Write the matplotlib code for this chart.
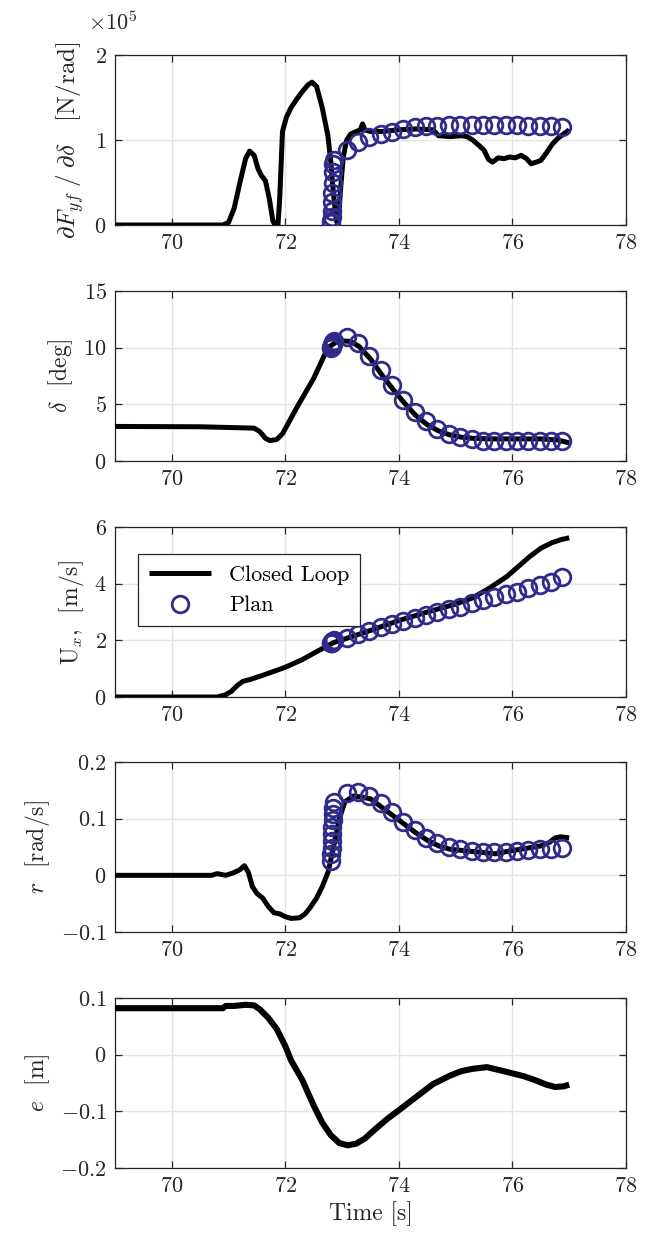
import numpy as np
import matplotlib
matplotlib.use("Agg")
import matplotlib.pyplot as plt
from matplotlib.ticker import FuncFormatter

plt.rcParams["font.family"] = ["cmr10", "DejaVu Serif"]
plt.rcParams["mathtext.fontset"] = "cm"
plt.rcParams["axes.formatter.use_mathtext"] = True
plt.rcParams["font.size"] = 16

# ── Closed loop traces (time [s], value) ──
t_cs = [69.0, 70.9, 71.0, 71.1, 71.2, 71.3, 71.37, 71.45, 71.52, 71.58, 71.65, 71.72, 71.78,
        71.82, 71.87, 71.9, 71.95, 72.02, 72.1, 72.2, 72.3, 72.4, 72.47, 72.55, 72.65, 72.75,
        72.8, 72.85, 72.9, 72.93, 72.97, 73.02, 73.08, 73.15, 73.25, 73.32, 73.36, 73.4, 73.5,
        73.7, 74.0, 74.3, 74.6, 74.7, 74.9, 75.1, 75.2, 75.3, 75.42, 75.5, 75.58, 75.65, 75.75,
        75.85, 75.95, 76.05, 76.15, 76.25, 76.33, 76.42, 76.5, 76.6, 76.7, 76.8, 76.9, 77.0]
cs_cl = [0.0, 0.0, 0.03, 0.2, 0.5, 0.78, 0.87, 0.82, 0.66, 0.58, 0.52, 0.3, 0.05,
         0.0, 0.0, 0.3, 1.1, 1.27, 1.38, 1.48, 1.57, 1.65, 1.68, 1.63, 1.38, 1.05,
         0.75, 0.35, 0.05, 0.0, 0.4, 0.8, 1.0, 1.07, 1.1, 1.12, 1.19, 1.12, 1.1,
         1.1, 1.12, 1.13, 1.12, 1.05, 1.04, 1.05, 1.04, 1.0, 0.93, 0.88, 0.77, 0.74, 0.79,
         0.78, 0.8, 0.79, 0.82, 0.78, 0.72, 0.74, 0.76, 0.85, 0.95, 1.02, 1.07, 1.12]  # x1e5

t_delta = [69.0, 70.5, 71.45, 71.55, 71.65, 71.73, 71.85, 71.95, 72.2, 72.5, 72.75, 72.9, 73.0,
           73.15, 73.3, 73.5, 73.7, 73.9, 74.1, 74.3, 74.5, 74.7, 74.9, 75.1, 75.3, 75.6,
           76.0, 76.5, 76.8, 77.0]
delta_cl = [3.05, 3.02, 2.9, 2.6, 2.0, 1.8, 1.9, 2.4, 4.7, 7.3, 10.0, 10.5, 10.6,
            10.55, 10.1, 9.0, 7.6, 6.3, 5.1, 4.0, 3.2, 2.65, 2.3, 2.1, 2.0, 1.95,
            1.95, 1.95, 1.85, 1.6]

t_ux = [69.0, 70.8, 70.95, 71.05, 71.15, 71.25, 71.4, 71.65, 72.0, 72.3, 72.55, 72.85, 73.2,
        73.5, 74.0, 74.5, 75.0, 75.3, 75.6, 75.9, 76.1, 76.3, 76.5, 76.7, 76.85, 77.0]
ux_cl = [0.0, 0.0, 0.08, 0.2, 0.4, 0.55, 0.63, 0.8, 1.05, 1.32, 1.6, 1.92, 2.15,
         2.35, 2.7, 3.0, 3.28, 3.5, 3.85, 4.25, 4.6, 4.95, 5.25, 5.45, 5.55, 5.62]

t_r = [69.0, 70.7, 70.8, 70.95, 71.1, 71.2, 71.28, 71.35, 71.42, 71.5, 71.6, 71.7, 71.8, 71.9,
       72.0, 72.1, 72.25, 72.35, 72.45, 72.55, 72.65, 72.75, 72.85, 72.95, 73.05, 73.2, 73.35,
       73.5, 73.7, 73.9, 74.1, 74.3, 74.5, 74.7, 74.9, 75.2, 75.5, 75.7, 75.9, 76.2, 76.5,
       76.65, 76.75, 76.85, 77.0]
r_cl = [0.0, 0.0, 0.003, 0.0, 0.005, 0.01, 0.017, 0.005, -0.02, -0.032, -0.04, -0.055, -0.066, -0.068,
        -0.073, -0.076, -0.075, -0.068, -0.055, -0.04, -0.02, 0.005, 0.05, 0.1, 0.13, 0.14, 0.138,
        0.135, 0.12, 0.105, 0.09, 0.075, 0.062, 0.052, 0.046, 0.043, 0.04, 0.038, 0.042, 0.047, 0.052,
        0.058, 0.066, 0.068, 0.066]

t_e = [69.0, 70.9, 70.95, 71.1, 71.3, 71.45, 71.55, 71.7, 71.85, 72.0, 72.1, 72.3, 72.5, 72.65,
       72.8, 72.95, 73.1, 73.25, 73.4, 73.6, 73.8, 74.0, 74.3, 74.6, 74.9, 75.1, 75.3, 75.55,
       75.8, 76.0, 76.2, 76.4, 76.6, 76.75, 76.9, 77.0]
e_cl = [0.082, 0.082, 0.086, 0.086, 0.088, 0.087, 0.08, 0.065, 0.045, 0.015, -0.01, -0.045, -0.09, -0.12,
        -0.142, -0.156, -0.16, -0.157, -0.148, -0.13, -0.113, -0.098, -0.075, -0.052, -0.037, -0.029, -0.025, -0.022,
        -0.028, -0.033, -0.038, -0.045, -0.053, -0.057, -0.056, -0.053]

# ── Plan (dense start, then 0.2 s steps) ──
t_plan = [72.805, 72.81, 72.815, 72.82, 72.825, 72.83, 72.835, 72.84, 72.845, 72.85,
          73.08, 73.28, 73.48, 73.68, 73.88, 74.08, 74.28, 74.48, 74.68, 74.88,
          75.08, 75.28, 75.48, 75.68, 75.88, 76.08, 76.28, 76.48, 76.68, 76.88]
cs_plan = [0.02, 0.05, 0.1, 0.17, 0.27, 0.38, 0.5, 0.62, 0.72, 0.76,
           0.88, 0.98, 1.03, 1.07, 1.1, 1.13, 1.15, 1.16, 1.17, 1.18,
           1.18, 1.18, 1.18, 1.18, 1.18, 1.18, 1.17, 1.17, 1.16, 1.15]
delta_plan = [10.0, 10.05, 10.1, 10.15, 10.2, 10.25, 10.3, 10.4, 10.5, 10.6,
              10.95, 10.4, 9.25, 8.0, 6.75, 5.4, 4.3, 3.5, 2.85, 2.4,
              2.1, 1.9, 1.8, 1.75, 1.75, 1.75, 1.75, 1.75, 1.75, 1.75]
ux_plan = [1.9, 1.91, 1.92, 1.93, 1.94, 1.95, 1.96, 1.97, 1.98, 2.0,
           2.1, 2.21, 2.33, 2.46, 2.58, 2.68, 2.78, 2.89, 3.0, 3.1,
           3.19, 3.31, 3.42, 3.54, 3.62, 3.72, 3.84, 3.95, 4.05, 4.22]
r_plan = [0.025, 0.037, 0.049, 0.061, 0.073, 0.085, 0.097, 0.108, 0.119, 0.13,
          0.146, 0.147, 0.14, 0.128, 0.112, 0.095, 0.08, 0.066, 0.057, 0.05,
          0.046, 0.043, 0.042, 0.041, 0.042, 0.043, 0.044, 0.046, 0.047, 0.049]

panels = [
    (t_cs, cs_cl, cs_plan, r"$\partial F_{yf}\;/\;\partial \delta\ \ $ [N/rad]", (0, 2), [0, 1, 2]),
    (t_delta, delta_cl, delta_plan, r"$\delta$  [deg]", (0, 15), [0, 5, 10, 15]),
    (t_ux, ux_cl, ux_plan, r"U$_x$,  [m/s]", (0, 6), [0, 2, 4, 6]),
    (t_r, r_cl, r_plan, r"$r$  [rad/s]", (-0.1, 0.2), [-0.1, 0, 0.1, 0.2]),
    (t_e, e_cl, None, r"$e$  [m]", (-0.2, 0.1), [-0.2, -0.1, 0, 0.1]),
]

W, H = 651, 1245
fig = plt.figure(figsize=(W / 100, H / 100), dpi=100)
bottoms_px = [225, 461, 697, 932, 1168]
plan_color = "#2f2b8a"
txt = "#262626"
fmt = FuncFormatter(lambda v, p: f"${v:g}$")

axes = []
for i, (tt, yy, plan, ylab, ylim, yt) in enumerate(panels):
    ax = fig.add_axes([115 / W, 1 - bottoms_px[i] / H, 511 / W, 170 / H])
    ax.plot(tt, yy, color="black", lw=3.6 if i < 4 else 4.4, solid_capstyle="butt",
            label="Closed Loop", zorder=3)
    if plan is not None:
        ax.plot(t_plan, plan, ls="none", marker="o", ms=12, mfc="none", mec=plan_color,
                mew=2.0, label="Plan", zorder=4)
    ax.set_xlim(69, 78)
    ax.set_ylim(*ylim)
    ax.set_xticks([70, 72, 74, 76, 78])
    ax.set_yticks(yt)
    ax.xaxis.set_major_formatter(fmt)
    ax.yaxis.set_major_formatter(fmt)
    ax.grid(True, color="#e3e3e3", lw=1.0)
    ax.set_axisbelow(True)
    ax.tick_params(direction="in", top=True, right=True, length=5, width=0.9,
                   color=txt, labelsize=16, pad=6, labelcolor=txt)
    for s in ax.spines.values():
        s.set_color(txt)
        s.set_linewidth(0.9)
    ax.set_ylabel(ylab, fontsize=18 if i == 0 else 17, color=txt, labelpad=6)
    axes.append(ax)

axes[-1].set_xlabel("Time [s]", fontsize=17, color=txt, labelpad=4)
fig.text(88 / W, 1 - 22 / H, r"$\times10^{5}$", fontsize=16, va="center", color=txt)

leg = axes[2].legend(loc="upper left", bbox_to_anchor=(23 / 511, 1 - 27 / 170), fontsize=16,
                     frameon=True, fancybox=False, framealpha=1, edgecolor=txt,
                     handlelength=2.8, borderpad=0.5, labelspacing=0.5, borderaxespad=0)
leg.get_frame().set_linewidth(0.9)

fig.savefig("out.png", dpi=100)
